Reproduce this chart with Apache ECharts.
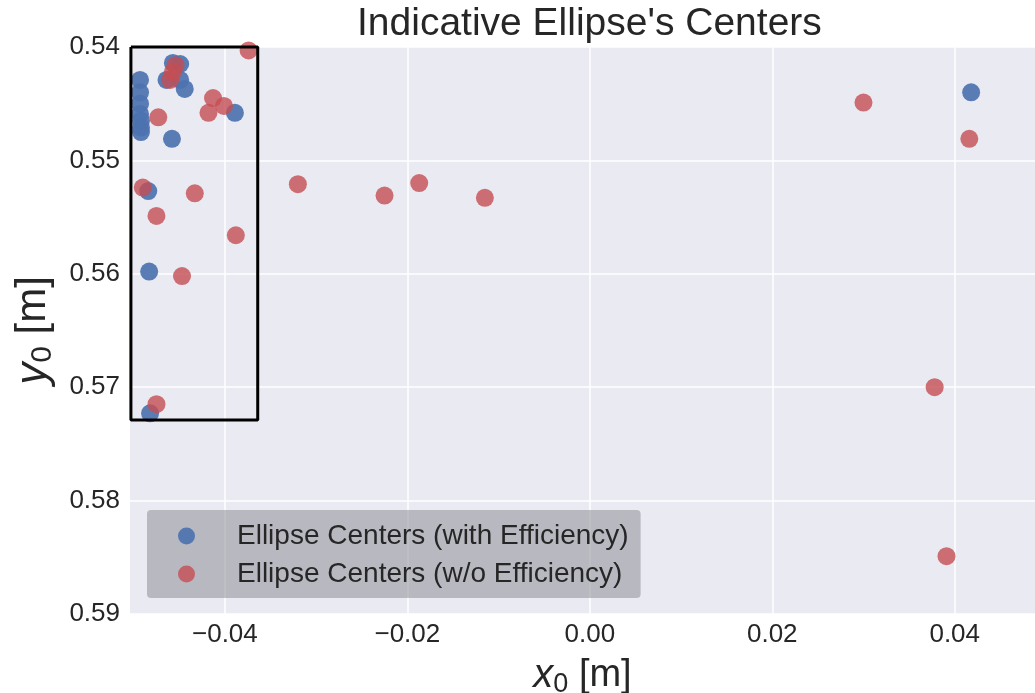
<!DOCTYPE html>
<html>
<head>
<meta charset="utf-8">
<script src="https://cdn.jsdelivr.net/npm/echarts@6/dist/echarts.min.js"></script>
<style>html,body{margin:0;padding:0;background:#fff;}#c{width:1035px;height:693px;}</style>
</head>
<body>
<div id="c"></div>
<script>
const titleText = "Indicative Ellipse's Centers";
const seriesNames = ["Ellipse Centers (with Efficiency)", "Ellipse Centers (w/o Efficiency)"];
const xTicks = [-0.04, -0.02, 0.00, 0.02, 0.04];
const yTicks = [0.54, 0.55, 0.56, 0.57, 0.58, 0.59];
const withEfficiency = [
  [-0.0493, 0.5429], [-0.0493, 0.5440], [-0.0493, 0.5450], [-0.0493, 0.5459],
  [-0.0492, 0.5465], [-0.0492, 0.5471], [-0.0492, 0.5475],
  [-0.0457, 0.5414], [-0.0449, 0.5415], [-0.0464, 0.5429], [-0.0449, 0.5429],
  [-0.0444, 0.5437], [-0.0389, 0.5458], [-0.0458, 0.5481],
  [-0.0484, 0.5527], [-0.0483, 0.5598], [-0.0482, 0.5723],
  [0.0418, 0.5440]
];
const withoutEfficiency = [
  [-0.0374, 0.5403], [-0.0454, 0.5416], [-0.0457, 0.5422], [-0.0460, 0.5429],
  [-0.0473, 0.5462], [-0.0413, 0.5445], [-0.0401, 0.5452], [-0.0418, 0.5458],
  [-0.0490, 0.5524], [-0.0433, 0.5529], [-0.0475, 0.5549], [-0.0388, 0.5566],
  [-0.0447, 0.5602], [-0.0475, 0.5715],
  [-0.0320, 0.5521], [-0.0225, 0.5531], [-0.0187, 0.5520], [-0.0115, 0.5533],
  [0.0300, 0.5449], [0.0416, 0.5481], [0.0378, 0.5700], [0.0391, 0.5849]
];
const boxCorners = [[-0.0503, 0.54], [-0.0364, 0.54], [-0.0364, 0.5729], [-0.0503, 0.5729], [-0.0503, 0.54]];
const xRange = [-0.0504, 0.0488];
const yRange = [0.54, 0.59];

const chart = echarts.init(document.getElementById('c'), null, {renderer: 'canvas'});
const font = 'Liberation Sans, Arial, sans-serif';
const ink = '#262626';
function nameRich(size) {
  return {
    i: {fontFamily: font, fontSize: size + 2, fontStyle: 'italic', color: ink},
    s: {fontFamily: font, fontSize: Math.round(size * 0.72), color: ink, verticalAlign: 'bottom', padding: [Math.round(size * 0.45), 0, 0, 0]},
    n: {fontFamily: font, fontSize: size, color: ink}
  };
}
chart.setOption({
  backgroundColor: '#ffffff',
  animation: false,
  title: {
    text: titleText, left: 352, top: 0,
    textStyle: {fontFamily: font, fontSize: 39, fontWeight: 'normal', color: ink}
  },
  grid: {left: 130, right: 0, top: 47, bottom: 79, show: true, backgroundColor: '#eaeaf2', borderWidth: 0,
    containLabel: false, outerBoundsMode: 'none'},
  xAxis: {
    type: 'value', min: xRange[0], max: xRange[1],
    axisLine: {show: false},
    axisTick: {show: false, customValues: xTicks},
    axisLabel: {customValues: xTicks, fontFamily: font, fontSize: 26, color: ink, margin: 8,
      formatter: v => (v < 0 ? '\u2212' : '') + Math.abs(v).toFixed(2)},
    splitLine: {show: true, lineStyle: {color: '#ffffff', width: 1.5}},
    name: '{i|x}{s|0}{n| [m]}', nameLocation: 'middle', nameGap: 40,
    nameTextStyle: {rich: nameRich(38)}
  },
  yAxis: {
    type: 'value', min: yRange[0], max: yRange[1], interval: 0.01, inverse: true,
    axisLine: {show: false}, axisTick: {show: false},
    axisLabel: {fontFamily: font, fontSize: 26, color: ink, margin: 10, formatter: v => v.toFixed(2)},
    splitLine: {show: true, lineStyle: {color: '#ffffff', width: 1.5}},
    name: '{i|y}{s|0}{n| [m]}', nameLocation: 'middle', nameGap: 72, nameRotate: 90,
    nameTextStyle: {rich: nameRich(42)}
  },
  legend: {
    orient: 'vertical', left: 147, top: 510,
    data: seriesNames,
    backgroundColor: 'rgba(150,150,160,0.6)', borderRadius: 4,
    padding: [12, 12, 10, 31], itemGap: 10,
    itemWidth: 17, itemHeight: 17, icon: 'circle',
    textStyle: {fontFamily: font, fontSize: 28, color: ink, padding: [0, 0, 0, 37]}
  },
  series: [
    {
      name: seriesNames[0], type: 'scatter', data: withEfficiency, symbolSize: 18,
      itemStyle: {color: '#4c72b0', opacity: 0.92}, z: 3
    },
    {
      name: seriesNames[1], type: 'scatter', data: withoutEfficiency, symbolSize: 18,
      itemStyle: {color: '#c44e52', opacity: 0.8}, z: 4
    },
    {
      name: 'box', type: 'line', data: boxCorners, showSymbol: false, symbol: 'none', clip: false,
      lineStyle: {color: '#000000', width: 3}, z: 5, silent: true
    }
  ]
});
</script>
</body>
</html>
